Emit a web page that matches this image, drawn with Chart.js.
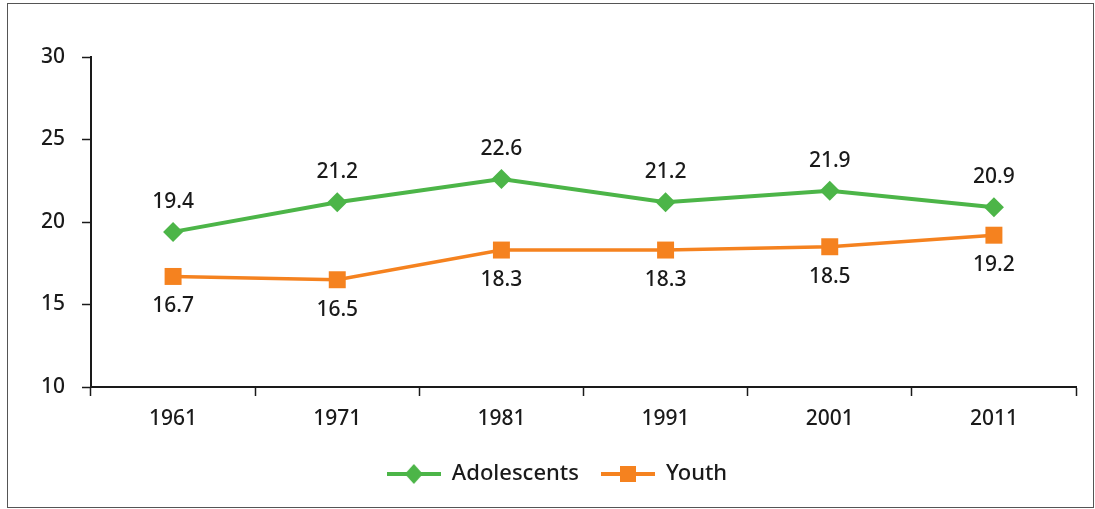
<!DOCTYPE html>
<html>
<head>
<meta charset="utf-8">
<script src="https://cdn.jsdelivr.net/npm/chart.js@4/dist/chart.umd.min.js"></script>
<style>
  html, body { margin: 0; padding: 0; background: #fff; }
  #frame {
    position: absolute; left: 7px; top: 3px;
    width: 1085px; height: 503px;
    border: 1px solid #555;
  }
</style>
</head>
<body>
<div id="frame"><canvas id="census-chart" width="1085" height="503"></canvas></div>
<script>
'use strict';

// census years and percentages
var years = ['1961', '1971', '1981', '1991', '2001', '2011'];
var adolescents = [19.4, 21.2, 22.6, 21.2, 21.9, 20.9];
var youth = [16.7, 16.5, 18.3, 18.3, 18.5, 19.2];
var yTicks = [10, 15, 20, 25, 30];

var green = '#4cb548';
var orange = '#f5821f';
var ink = '#1a1a1a';
var fontFamily = '"Noto Sans", "Open Sans", sans-serif';

// small line + marker swatch for the legend
function legendSwatch(color, shape) {
  var c = document.createElement('canvas');
  c.width = 54; c.height = 22;
  var g = c.getContext('2d');
  g.strokeStyle = color;
  g.lineWidth = 4;
  g.beginPath(); g.moveTo(0, 11); g.lineTo(54, 11); g.stroke();
  g.fillStyle = color;
  g.beginPath();
  if (shape === 'diamond') {
    g.moveTo(27, 1); g.lineTo(36, 11); g.lineTo(27, 21); g.lineTo(18, 11);
  } else {
    g.rect(19, 3, 16, 16);
  }
  g.closePath(); g.fill();
  return c;
}

// value labels above (first series) / below (second series) each point
var valueLabels = {
  id: 'valueLabels',
  afterDatasetsDraw: function (chart) {
    var ctx = chart.ctx;
    ctx.save();
    ctx.font = '500 21px ' + fontFamily;
    ctx.fillStyle = ink;
    ctx.textAlign = 'center';
    ctx.textBaseline = 'middle';
    chart.data.datasets.forEach(function (ds, di) {
      var meta = chart.getDatasetMeta(di);
      meta.data.forEach(function (pt, i) {
        var dy = di === 0 ? -30 : 30;
        ctx.fillText(ds.data[i].toFixed(1), pt.x, pt.y + dy);
      });
    });
    ctx.restore();
  }
};

var ctx = document.getElementById('census-chart').getContext('2d');
var chart = new Chart(ctx, {
  type: 'line',
  data: {
    labels: years,
    datasets: [
      {
        label: 'Adolescents',
        data: adolescents,
        borderColor: green,
        backgroundColor: green,
        borderWidth: 4,
        pointStyle: 'rectRot',
        pointRadius: 10,
        pointBorderWidth: 0,
        tension: 0
      },
      {
        label: 'Youth',
        data: youth,
        borderColor: orange,
        backgroundColor: orange,
        borderWidth: 3.5,
        pointStyle: 'rect',
        pointRadius: 12,
        pointBorderWidth: 0,
        tension: 0
      }
    ]
  },
  options: {
    responsive: false,
    animation: false,
    layout: { padding: { top: 53, right: 17, left: 30, bottom: 12 } },
    plugins: {
      tooltip: { enabled: false },
      legend: {
        position: 'bottom',
        labels: {
          usePointStyle: true,
          pointStyleWidth: 54,
          padding: 22,
          color: ink,
          font: { family: fontFamily, size: 22, weight: '500' },
          generateLabels: function (chart) {
            return chart.data.datasets.map(function (ds, i) {
              return {
                text: ds.label,
                pointStyle: legendSwatch(ds.borderColor, i === 0 ? 'diamond' : 'square'),
                fillStyle: ds.borderColor,
                strokeStyle: ds.borderColor,
                lineWidth: 0,
                fontColor: ink,
                datasetIndex: i
              };
            });
          }
        }
      }
    },
    scales: {
      x: {
        offset: true,
        border: { color: ink, width: 2 },
        grid: { offset: true, drawOnChartArea: false, tickLength: 9, color: ink, tickWidth: 1.5 },
        ticks: { color: ink, padding: 10, font: { family: fontFamily, size: 21, weight: '500' } },
        afterFit: function (axis) { axis.height = 54; }
      },
      y: {
        min: 10,
        max: 30,
        border: { color: ink, width: 2 },
        grid: { drawOnChartArea: false, tickLength: 9, color: ink, tickWidth: 1.5 },
        afterBuildTicks: function (axis) {
          axis.ticks = yTicks.map(function (v) { return { value: v }; });
        },
        ticks: { color: ink, padding: 17, font: { family: fontFamily, size: 21, weight: '500' } },
        afterFit: function (axis) { axis.width = 53; }
      }
    }
  },
  plugins: [valueLabels]
});
</script>
</body>
</html>
